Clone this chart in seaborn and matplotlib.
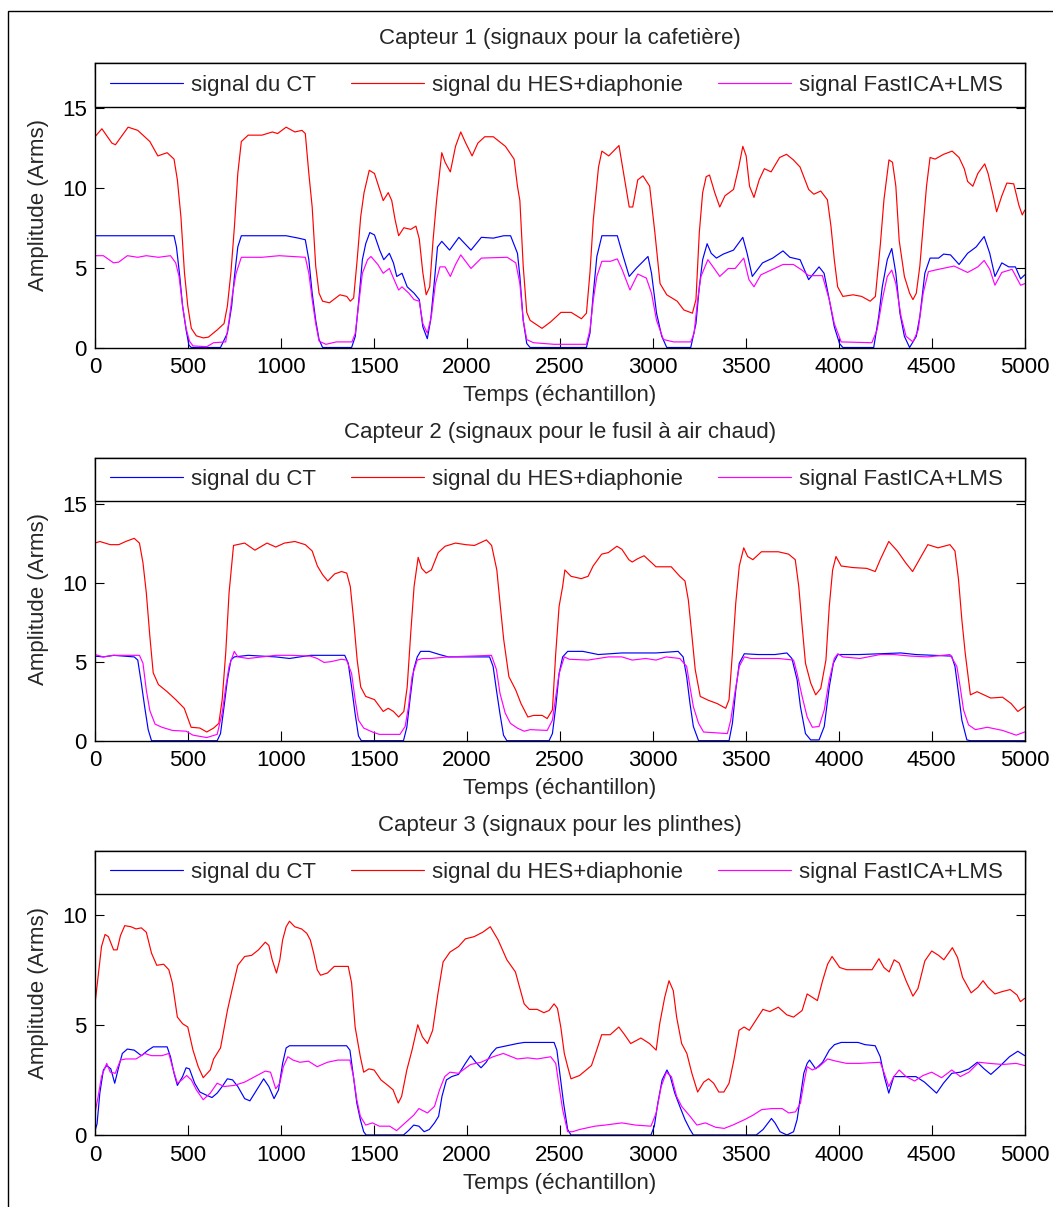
import matplotlib
matplotlib.use("Agg")
import matplotlib.pyplot as plt
import matplotlib.patches as patches
import seaborn as sns

# ---- data (sample index, amplitude in Arms) ----

# Capteur 1 (cafetière)
c1_ct_x = [0, 425, 438, 456, 471, 490, 505, 518, 675, 712, 735, 750, 768, 787, 1028, 1094, 1131,
           1150, 1168, 1187, 1205, 1224, 1380, 1400, 1419, 1438, 1456, 1478, 1503, 1531, 1553,
           1583, 1605, 1623, 1651, 1679, 1716, 1744, 1763, 1787, 1805, 1824, 1842, 1865, 1907,
           1957, 2022, 2078, 2142, 2198, 2235, 2272, 2285, 2303, 2322, 2340, 2643, 2662, 2680,
           2699, 2726, 2809, 2836, 2873, 2910, 2974, 2993, 3020, 3048, 3075, 3204, 3232, 3250,
           3268, 3292, 3314, 3342, 3379, 3434, 3484, 3507, 3535, 3590, 3645, 3700, 3737, 3792,
           3838, 3894, 3921, 3949, 3976, 4004, 4022, 4188, 4215, 4234, 4261, 4285, 4307, 4329,
           4353, 4381, 4417, 4436, 4463, 4491, 4537, 4564, 4601, 4647, 4693, 4739, 4782, 4812,
           4840, 4877, 4914, 4950, 4978, 5000]
c1_ct_y = [7.0, 7.0, 6.3, 4.45, 2.6, 1.1, 0.15, 0.0, 0.0, 0.9, 2.6, 4.45, 6.3, 7.0, 7.0, 6.85, 6.75,
           5.5, 3.4, 1.7, 0.5, 0.0, 0.0, 0.7, 3.0, 5.5, 6.5, 7.2, 7.05, 6.1, 5.5,
           5.9, 5.3, 4.45, 4.65, 3.8, 3.4, 3.0, 1.3, 0.55, 1.7, 4.0, 6.3, 6.65, 6.1,
           6.9, 6.1, 6.9, 6.85, 7.0, 7.0, 5.9, 4.45, 1.7, 0.25, 0.0, 0.0, 0.9, 3.4,
           5.7, 7.0, 7.0, 5.9, 4.45, 4.95, 5.7, 4.65, 2.15, 0.7, 0.0, 0.0, 1.5, 3.8,
           5.5, 6.5, 5.9, 5.6, 5.85, 6.1, 6.9, 5.9, 4.45, 5.3, 5.6, 6.05, 5.65, 5.5,
           4.25, 5.05, 4.65, 3.0, 1.3, 0.25, 0.0, 0.0, 1.95, 3.8, 5.5, 6.2, 4.65, 2.15,
           0.7, 0.0, 0.7, 1.95, 4.65, 5.6, 5.6, 5.85, 5.8, 5.2, 5.9, 6.3, 6.95, 5.9,
           4.45, 5.3, 5.05, 5.05, 4.3, 4.55]

c1_hes_x = [0, 37, 91, 110, 147, 178, 230, 295, 338, 388, 425, 443, 462, 481, 499, 518, 545, 583,
            610, 657, 694, 712, 731, 750, 768, 787, 824, 898, 954, 982, 1028, 1075, 1113, 1131,
            1150, 1168, 1187, 1205, 1224, 1261, 1317, 1354, 1373, 1391, 1410, 1429, 1447, 1475,
            1503, 1531, 1550, 1577, 1596, 1614, 1633, 1661, 1698, 1726, 1744, 1763, 1781, 1800,
            1818, 1837, 1865, 1883, 1911, 1939, 1967, 1994, 2028, 2059, 2096, 2142, 2207, 2254,
            2272, 2285, 2303, 2322, 2340, 2404, 2450, 2506, 2561, 2616, 2643, 2662, 2680, 2708,
            2726, 2763, 2818, 2846, 2873, 2892, 2919, 2947, 2983, 3011, 3039, 3075, 3131, 3167,
            3213, 3232, 3250, 3268, 3287, 3305, 3333, 3360, 3388, 3434, 3462, 3484, 3502, 3520,
            3544, 3572, 3600, 3636, 3682, 3719, 3756, 3792, 3838, 3866, 3903, 3939, 3958, 3976,
            3994, 4022, 4077, 4123, 4169, 4197, 4224, 4243, 4270, 4289, 4307, 4325, 4353, 4381,
            4399, 4417, 4436, 4454, 4472, 4491, 4518, 4564, 4610, 4647, 4675, 4693, 4721, 4748,
            4785, 4803, 4831, 4849, 4877, 4904, 4941, 4969, 4987, 5000]
c1_hes_y = [13.2, 13.7, 12.8, 12.7, 13.3, 13.8, 13.6, 12.9, 12.0, 12.2, 11.8, 10.5, 8.2, 4.7, 2.6,
            1.2, 0.73, 0.6, 0.65, 1.1, 1.5, 2.6, 4.7, 7.6, 10.9, 12.9, 13.3, 13.3, 13.5, 13.4,
            13.8, 13.5, 13.6, 13.4, 10.9, 8.8, 5.1, 3.4, 2.9, 2.8, 3.3, 3.2, 2.9, 3.1, 5.5, 8.2,
            9.7, 11.1, 10.9, 9.9, 9.2, 9.7, 9.2, 8.0, 7.0, 7.5, 7.4, 7.6, 6.8, 4.7, 3.3, 3.8,
            6.7, 9.2, 12.2, 11.6, 11.0, 12.6, 13.5, 12.8, 12.0, 12.8, 13.2, 13.2, 12.6, 11.8,
            10.1, 9.2, 5.1, 2.2, 1.7, 1.2, 1.6, 2.2, 2.2, 1.8, 2.15, 4.7, 8.0, 11.3,
            12.3, 12.0, 12.65, 10.7, 8.8, 8.8, 10.5, 10.75, 10.1, 7.2, 4.0, 3.3, 2.9, 2.35,
            2.15, 3.0, 7.2, 9.7, 10.7, 10.8, 9.7, 8.8, 9.5, 9.9, 11.3, 12.6, 12.0, 10.1,
            9.4, 10.5, 11.2, 11.0, 11.9, 12.1, 11.75, 11.3, 9.9, 9.6, 9.8, 9.25, 7.6, 5.5,
            3.8, 3.2, 3.3, 3.2, 2.9, 3.2, 6.5, 9.25, 11.75, 11.6, 10.1, 6.7, 4.45, 3.4,
            3.0, 3.4, 5.1, 7.6, 10.1, 11.9, 11.8, 12.1, 12.3, 11.9, 11.2, 10.4, 10.1, 10.9,
            11.5, 10.9, 9.5, 8.5, 9.5, 10.3, 10.25, 8.9, 8.3, 8.6]

c1_ica_x = [0, 45, 100, 128, 174, 230, 276, 341, 406, 434, 452, 471, 490, 508, 527, 601, 638, 703,
            721, 740, 759, 787, 898, 991, 1131, 1150, 1168, 1187, 1205, 1242, 1298, 1382, 1400,
            1419, 1438, 1466, 1484, 1521, 1550, 1583, 1605, 1633, 1651, 1688, 1716, 1744, 1763,
            1787, 1809, 1831, 1855, 1883, 1911, 1939, 1967, 2022, 2078, 2217, 2263, 2285, 2303,
            2322, 2358, 2469, 2643, 2662, 2680, 2699, 2726, 2772, 2809, 2836, 2877, 2919, 2965,
            2993, 3020, 3057, 3112, 3204, 3222, 3241, 3259, 3296, 3324, 3360, 3406, 3443, 3489,
            3517, 3544, 3581, 3636, 3700, 3756, 3802, 3838, 3912, 3949, 3976, 4013, 4178, 4206,
            4234, 4261, 4285, 4307, 4335, 4362, 4399, 4427, 4454, 4482, 4518, 4620, 4693, 4748,
            4782, 4812, 4840, 4877, 4932, 4978, 5000]
c1_ica_y = [5.75, 5.75, 5.3, 5.35, 5.75, 5.65, 5.75, 5.65, 5.75, 5.3, 4.45, 2.6, 1.2, 0.4, 0.1,
            0.05, 0.3, 0.35, 1.7, 3.4, 4.65, 5.65, 5.65, 5.75, 5.65, 4.65, 3.0, 1.5, 0.4, 0.2,
            0.35, 0.35, 0.9, 2.8, 4.65, 5.5, 5.7, 5.2, 4.65, 4.95, 4.35, 3.6, 3.8, 3.4, 3.0,
            2.9, 1.5, 0.9, 1.95, 4.0, 5.05, 5.05, 4.45, 5.2, 5.8, 4.95, 5.6, 5.65, 5.3, 4.0,
            1.7, 0.5, 0.3, 0.2, 0.2, 1.1, 3.0, 4.45, 5.4, 5.4, 5.55, 4.85, 3.6, 4.6, 4.35,
            3.4, 1.7, 0.5, 0.35, 0.35, 0.9, 3.0, 4.45, 5.5, 5.05, 4.45, 4.95, 4.95, 5.6,
            4.25, 3.8, 4.55, 4.85, 5.2, 5.2, 4.85, 4.5, 4.5, 3.0, 1.5, 0.35, 0.3, 1.1,
            3.0, 4.45, 4.85, 4.0, 1.95, 0.7, 0.35, 1.1, 3.4, 4.75, 4.85, 5.1, 4.7, 5.05,
            5.45, 4.9, 3.9, 4.7, 4.9, 3.9, 4.0]

# Capteur 2 (fusil à air chaud)
c2_ct_x = [0, 45, 100, 211, 230, 249, 267, 286, 304, 657, 675, 694, 712, 731, 749, 824, 972, 1046,
           1102, 1158, 1343, 1362, 1380, 1399, 1417, 1432, 1659, 1677, 1696, 1714, 1733, 1751,
           1798, 1853, 1900, 2122, 2141, 2159, 2178, 2197, 2215, 2442, 2460, 2478, 2496, 2515,
           2542, 2624, 2707, 2834, 3017, 3136, 3163, 3182, 3200, 3218, 3246, 3410, 3428, 3446,
           3465, 3492, 3565, 3657, 3721, 3748, 3776, 3794, 3821, 3849, 3894, 3922, 3949, 3971,
           3995, 4114, 4223, 4333, 4415, 4607, 4625, 4644, 4662, 4689, 4708, 5000]
c2_ct_y = [5.35, 5.3, 5.4, 5.3, 5.1, 3.65, 2.15, 0.7, 0.0, 0.0, 0.45, 2.15, 3.85, 5.1, 5.3, 5.4,
           5.3, 5.2, 5.3, 5.4, 5.4, 4.9, 3.4, 1.7, 0.3, 0.0, 0.0, 0.85, 2.8, 4.5, 5.3, 5.65,
           5.65, 5.45, 5.3, 5.3, 4.7, 3.2, 1.7, 0.35, 0.0, 0.0, 0.45, 2.15, 4.25, 5.3,
           5.65, 5.65, 5.45, 5.55, 5.55, 5.65, 5.3, 4.05, 2.35, 0.9, 0.0, 0.0, 1.1, 3.2,
           4.9, 5.5, 5.45, 5.45, 5.55, 5.2, 3.85, 2.15, 0.45, 0.05, 0.05, 0.9, 3.4, 4.9,
           5.45, 5.45, 5.5, 5.55, 5.45, 5.35, 4.7, 3.0, 1.3, 0.05, 0.0, 0.0]

c2_hes_x = [0, 26, 82, 128, 165, 211, 239, 258, 276, 295, 313, 341, 388, 434, 480, 517, 564, 601,
            638, 666, 684, 703, 721, 745, 805, 860, 925, 972, 1019, 1075, 1131, 1168, 1196, 1224,
            1252, 1289, 1326, 1354, 1373, 1391, 1410, 1429, 1456, 1503, 1550, 1577, 1605, 1633,
            1661, 1679, 1698, 1716, 1738, 1757, 1781, 1809, 1846, 1883, 1939, 1994, 2041, 2078,
            2105, 2133, 2161, 2180, 2198, 2226, 2263, 2291, 2328, 2359, 2405, 2432, 2460, 2478,
            2496, 2515, 2527, 2560, 2615, 2652, 2679, 2725, 2761, 2807, 2834, 2871, 2889, 2917,
            2953, 3017, 3099, 3145, 3173, 3191, 3209, 3228, 3255, 3300, 3346, 3392, 3410, 3428,
            3446, 3465, 3489, 3510, 3538, 3584, 3675, 3730, 3766, 3785, 3803, 3821, 3849, 3876,
            3903, 3931, 3949, 3967, 3985, 4013, 4077, 4150, 4196, 4223, 4269, 4315, 4360, 4397,
            4433, 4479, 4534, 4598, 4625, 4644, 4662, 4680, 4708, 4744, 4781, 4817, 4881, 4927,
            4963, 5000]
c2_hes_y = [12.5, 12.6, 12.4, 12.4, 12.6, 12.8, 12.5, 11.25, 9.35, 6.6, 4.3, 3.55, 3.1, 2.6, 2.05,
            0.85, 0.8, 0.55, 0.8, 1.1, 2.6, 5.55, 9.35, 12.35, 12.5, 12.05, 12.5, 12.25, 12.5,
            12.6, 12.4, 12.0, 11.05, 10.5, 10.1, 10.55, 10.7, 10.6, 9.75, 7.65, 5.1, 3.4, 2.8,
            2.6, 1.85, 2.05, 1.85, 1.5, 1.85, 3.4, 6.8, 9.75, 11.6, 10.9, 10.6, 10.8, 11.9,
            12.3, 12.5, 12.4, 12.35, 12.55, 12.7, 12.35, 10.8, 8.5, 6.4, 4.05, 3.2, 2.35, 1.5,
            1.6, 1.6, 1.4, 1.95, 5.55, 8.5, 9.75, 10.8, 10.4, 10.25, 10.4, 11.05, 11.8, 11.9,
            12.3, 12.1, 11.45, 11.3, 11.5, 11.7, 11.0, 11.0, 10.4, 10.1, 8.9, 6.8, 4.5, 2.8,
            2.55, 2.35, 2.05, 2.6, 5.55, 8.7, 11.05, 12.2, 11.65, 11.45, 11.95, 11.95, 11.8,
            11.45, 9.75, 7.25, 4.9, 3.65, 2.9, 3.3, 5.1, 8.5, 10.8, 11.65, 11.05, 10.95, 10.9,
            10.7, 11.45, 12.6, 12.0, 11.25, 10.7, 11.45, 12.4, 12.2, 12.4, 12.0, 10.2, 7.65,
            5.55, 2.9, 3.1, 2.9, 2.7, 2.75, 2.35, 1.85, 2.15]

c2_ica_x = [0, 45, 100, 239, 258, 276, 295, 323, 360, 416, 490, 527, 601, 657, 684, 703, 721, 749,
            768, 824, 898, 972, 1056, 1158, 1195, 1232, 1269, 1325, 1353, 1380, 1399, 1417, 1445,
            1492, 1529, 1640, 1668, 1686, 1705, 1733, 1761, 1807, 1900, 2132, 2159, 2178, 2206,
            2234, 2271, 2308, 2341, 2432, 2460, 2478, 2496, 2524, 2551, 2652, 2761, 2834, 2889,
            2962, 3017, 3072, 3145, 3182, 3200, 3218, 3246, 3273, 3401, 3419, 3441, 3465, 3492,
            3529, 3602, 3675, 3757, 3776, 3803, 3830, 3858, 3894, 3922, 3949, 3976, 3995, 4022,
            4114, 4223, 4296, 4388, 4479, 4598, 4635, 4653, 4671, 4698, 4735, 4799, 4881, 4954,
            5000]
c2_ica_y = [5.45, 5.3, 5.4, 5.4, 4.9, 3.2, 1.9, 1.05, 0.85, 0.65, 0.6, 0.35, 0.2, 0.4, 1.75, 3.4,
            4.7, 5.65, 5.3, 5.2, 5.3, 5.4, 5.4, 5.35, 5.2, 4.95, 5.0, 5.15, 5.1, 4.25, 2.6, 1.3,
            0.8, 0.55, 0.4, 0.4, 0.9, 2.15, 4.05, 5.1, 5.2, 5.2, 5.3, 5.4, 4.5, 3.0, 1.75,
            1.1, 0.8, 0.6, 0.7, 0.65, 1.3, 2.8, 4.25, 5.3, 5.15, 5.1, 5.3, 5.3, 5.1,
            5.2, 5.1, 5.3, 5.2, 4.7, 3.4, 2.15, 1.1, 0.55, 0.45, 1.3, 3.0, 4.7, 5.3,
            5.2, 5.2, 5.2, 5.1, 4.25, 2.8, 1.5, 0.85, 0.9, 1.95, 3.85, 5.2, 5.5, 5.3,
            5.2, 5.45, 5.45, 5.35, 5.3, 5.45, 4.7, 3.4, 1.95, 1.0, 0.7, 0.85, 0.65, 0.35,
            0.55]

# Capteur 3 (plinthes)
c3_ct_x = [0, 11, 26, 45, 63, 85, 106, 128, 147, 174, 211, 249, 286, 313, 388, 406, 425, 443, 471,
           490, 508, 536, 564, 601, 629, 657, 684, 712, 740, 768, 805, 833, 870, 907, 935, 963,
           987, 1009, 1028, 1046, 1353, 1371, 1390, 1408, 1427, 1445, 1458, 1659, 1686, 1714,
           1742, 1770, 1798, 1826, 1848, 1866, 1890, 1918, 1955, 1992, 2020, 2048, 2076, 2104,
           2132, 2159, 2215, 2271, 2308, 2469, 2484, 2502, 2520, 2542, 2560, 2990, 3008, 3027,
           3050, 3076, 3094, 3118, 3145, 3173, 3200, 3218, 3556, 3593, 3620, 3638, 3657, 3684,
           3721, 3757, 3776, 3794, 3812, 3830, 3843, 3876, 3913, 3949, 3977, 4013, 4104, 4141,
           4196, 4223, 4245, 4269, 4296, 4333, 4415, 4461, 4500, 4526, 4563, 4608, 4654, 4700,
           4745, 4782, 4818, 4864, 4918, 4963, 5000]
c3_ct_y = [0.2, 0.5, 1.9, 2.95, 3.15, 3.0, 2.35, 3.1, 3.7, 3.9, 3.85, 3.6, 3.85, 4.0, 4.0, 3.55,
           2.8, 2.25, 2.65, 3.05, 3.0, 2.35, 1.95, 1.8, 1.7, 1.9, 2.2, 2.55, 2.5, 2.2, 1.65,
           1.55, 2.05, 2.55, 2.2, 1.65, 2.05, 3.25, 3.95, 4.05, 4.05, 3.85, 2.65, 1.45, 0.7,
           0.15, 0.0, 0.0, 0.2, 0.45, 0.4, 0.15, 0.25, 0.55, 0.85, 1.75, 2.5, 2.65, 2.75,
           3.25, 3.6, 3.3, 3.05, 3.3, 3.7, 3.95, 4.05, 4.15, 4.2, 4.2, 3.85, 2.65, 1.45,
           0.25, 0.0, 0.0, 0.4, 1.45, 2.5, 2.95, 2.65, 1.9, 1.3, 0.7, 0.25, 0.0, 0.0, 0.25,
           0.55, 0.75, 0.55, 0.15, 0.0, 0.15, 0.7, 1.75, 2.8, 3.25, 3.4, 3.0, 3.3, 3.85,
           4.1, 4.2, 4.2, 4.1, 4.05, 3.55, 2.65, 1.9, 2.65, 2.65, 2.65, 2.4, 2.1, 1.9,
           2.35, 2.8, 2.85, 3.0, 3.3, 3.0, 2.75, 3.1, 3.55, 3.8, 3.6]

c3_hes_x = [0, 17, 35, 54, 72, 100, 119, 137, 160, 193, 221, 249, 276, 304, 332, 369, 397, 416, 443,
            471, 499, 527, 555, 582, 620, 638, 675, 712, 740, 768, 805, 842, 879, 916, 935, 953,
            976, 994, 1009, 1028, 1046, 1074, 1111, 1139, 1158, 1176, 1195, 1213, 1250, 1287,
            1325, 1362, 1380, 1399, 1427, 1445, 1473, 1501, 1538, 1575, 1603, 1631, 1649, 1677,
            1705, 1736, 1761, 1788, 1816, 1844, 1872, 1909, 1955, 1992, 2039, 2085, 2126, 2168,
            2215, 2261, 2308, 2336, 2378, 2414, 2442, 2469, 2487, 2505, 2524, 2542, 2560, 2606,
            2670, 2698, 2725, 2771, 2817, 2844, 2881, 2936, 2982, 3018, 3037, 3064, 3087, 3110,
            3128, 3155, 3183, 3210, 3241, 3274, 3300, 3327, 3355, 3382, 3410, 3436, 3464, 3491,
            3519, 3565, 3592, 3629, 3675, 3721, 3757, 3803, 3830, 3858, 3885, 3913, 3940, 3964,
            4005, 4042, 4115, 4179, 4216, 4243, 4271, 4298, 4325, 4362, 4399, 4426, 4463, 4500,
            4537, 4565, 4611, 4639, 4666, 4712, 4748, 4776, 4803, 4840, 4876, 4922, 4959, 4977,
            5000]
c3_hes_y = [5.95, 7.2, 8.55, 9.1, 9.0, 8.4, 8.4, 9.05, 9.5, 9.45, 9.35, 9.4, 9.2, 8.25, 7.7, 7.75,
            7.5, 6.9, 5.35, 5.05, 4.9, 3.85, 3.1, 2.6, 2.95, 3.45, 3.95, 5.65, 6.7, 7.7, 8.1,
            8.15, 8.4, 8.75, 8.6, 7.95, 7.35, 7.95, 8.85, 9.45, 9.7, 9.45, 9.35, 9.15, 8.85,
            8.25, 7.5, 7.25, 7.35, 7.65, 7.65, 7.65, 6.9, 4.9, 3.55, 2.85, 3.0, 2.95, 2.5,
            2.25, 2.05, 1.45, 1.75, 2.95, 3.85, 5.0, 4.45, 4.15, 4.75, 6.4, 7.85, 8.3, 8.55,
            8.9, 9.0, 9.2, 9.45, 8.85, 7.95, 7.4, 5.95, 5.7, 5.7, 5.55, 5.65, 5.95, 5.75,
            4.9, 3.7, 3.1, 2.55, 2.7, 3.15, 3.85, 4.55, 4.55, 4.9, 4.6, 4.15, 4.4, 4.15,
            3.85, 5.05, 6.25, 7.0, 6.55, 5.35, 4.15, 3.7, 2.8, 1.95, 2.4, 2.55, 2.35, 1.95,
            1.95, 2.35, 3.4, 4.75, 4.9, 4.75, 5.35, 5.7, 5.6, 5.8, 5.45, 5.35, 5.65, 6.4,
            6.25, 6.1, 7.0, 7.75, 8.1, 7.6, 7.5, 7.5, 7.5, 8.0, 7.6, 7.4, 7.95, 7.8, 7.0,
            6.3, 6.65, 7.9, 8.35, 8.15, 7.95, 8.5, 8.05, 7.15, 6.45, 6.7, 7.0, 6.7, 6.4,
            6.5, 6.6, 6.35, 6.05, 6.2]

c3_ica_x = [0, 17, 35, 63, 82, 109, 137, 165, 221, 267, 304, 360, 397, 416, 443, 467, 493, 518, 545,
            582, 620, 657, 694, 749, 805, 860, 916, 944, 972, 994, 1013, 1037, 1065, 1102, 1148,
            1195, 1250, 1306, 1371, 1390, 1408, 1427, 1456, 1492, 1529, 1585, 1622, 1668, 1714,
            1742, 1788, 1826, 1853, 1881, 1909, 1955, 2020, 2076, 2141, 2196, 2271, 2327, 2378,
            2451, 2478, 2496, 2515, 2542, 2569, 2606, 2688, 2743, 2834, 2907, 2990, 3018, 3045,
            3073, 3100, 3128, 3155, 3200, 3237, 3283, 3338, 3384, 3430, 3494, 3539, 3585, 3640,
            3695, 3731, 3767, 3794, 3812, 3830, 3858, 3894, 3940, 3986, 4042, 4114, 4223, 4245,
            4269, 4296, 4325, 4362, 4408, 4453, 4500, 4553, 4608, 4654, 4700, 4754, 4809, 4881,
            4954, 5000]
c3_ica_y = [1.0, 1.75, 2.65, 3.25, 2.85, 2.8, 3.4, 3.45, 3.45, 3.7, 3.6, 3.6, 3.7, 3.1, 2.35, 2.5,
            2.7, 2.5, 2.05, 1.6, 1.9, 2.35, 2.2, 2.25, 2.4, 2.65, 2.9, 2.85, 2.1, 2.35, 3.1,
            3.55, 3.4, 3.3, 3.35, 3.1, 3.3, 3.4, 3.4, 2.65, 1.6, 0.85, 0.45, 0.55, 0.4, 0.4,
            0.2, 0.55, 0.9, 1.2, 1.0, 1.3, 2.05, 2.65, 2.85, 2.8, 3.2, 3.3, 3.55, 3.7, 3.45,
            3.5, 3.45, 3.55, 3.25, 2.2, 1.15, 0.15, 0.15, 0.25, 0.4, 0.45, 0.55, 0.45, 0.4,
            1.0, 2.2, 2.85, 2.65, 1.75, 1.3, 0.85, 0.45, 0.55, 0.35, 0.3, 0.45, 0.7, 0.9,
            1.15, 1.2, 1.2, 1.0, 1.05, 1.45, 2.35, 3.1, 2.95, 3.1, 3.45, 3.35, 3.25, 3.25,
            3.3, 2.8, 2.2, 2.65, 2.95, 2.65, 2.45, 2.7, 2.85, 2.6, 2.95, 2.65, 2.85, 3.3,
            3.25, 3.2, 3.25, 3.15]

titles = [
    "Capteur 1 (signaux pour la cafetière)",
    "Capteur 2 (signaux pour le fusil à air chaud)",
    "Capteur 3 (signaux pour les plinthes)",
]
series_labels = ["signal du CT", "signal du HES+diaphonie", "signal FastICA+LMS"]
series_colors = ["#0000ff", "#ff0000", "#ff00ff"]
x_ticks = list(range(0, 5001, 500))
y_ticks = [[0, 5, 10, 15], [0, 5, 10, 15], [0, 5, 10]]
y_tops = [17.8, 17.9, 12.9]

panels = [
    [(c1_ct_x, c1_ct_y), (c1_hes_x, c1_hes_y), (c1_ica_x, c1_ica_y)],
    [(c2_ct_x, c2_ct_y), (c2_hes_x, c2_hes_y), (c2_ica_x, c2_ica_y)],
    [(c3_ct_x, c3_ct_y), (c3_hes_x, c3_hes_y), (c3_ica_x, c3_ica_y)],
]

sns.set_style("ticks")
plt.rcParams["font.family"] = ["Liberation Sans", "DejaVu Sans"]
plt.rcParams["axes.linewidth"] = 1.0

W, H = 1053, 1207
fig = plt.figure(figsize=(W / 100, H / 100), dpi=100)
fig.patch.set_facecolor("white")

# outer frame (left/top edges visible, the rest runs off the image)
fig.patches.append(patches.Rectangle(
    (8 / W, -0.02), 1.1, 1 - 11 / H + 0.02,
    transform=fig.transFigure, fill=False, edgecolor="black", linewidth=1.0,
))

# axes boxes in pixels: (left, top, right, bottom)
boxes = [(95, 63.3, 1024.7, 347.5), (95, 457.7, 1024.7, 740.7), (95, 850.7, 1024.7, 1135)]
FS = 16
LEG_PX = 43.4

for i, (box, series) in enumerate(zip(boxes, panels)):
    l, t, r, b = box
    ax = fig.add_axes([l / W, 1 - b / H, (r - l) / W, (b - t) / H])
    for (xs, ys), lab, col in zip(series, series_labels, series_colors):
        sns.lineplot(x=xs, y=ys, ax=ax, color=col, linewidth=0.85, label=lab,
                     estimator=None, sort=False)

    ax.set_xlim(0, 5000)
    ax.set_ylim(0, y_tops[i])
    ax.set_xticks(x_ticks)
    ax.set_yticks(y_ticks[i])
    ax.tick_params(axis="both", which="both", direction="in", colors="black",
                   labelsize=FS, top=True, right=True)
    ax.tick_params(axis="x", length=7.5, width=0.8, pad=7)
    ax.tick_params(axis="y", length=6.5, width=0.8, pad=6)
    for sp in ax.spines.values():
        sp.set_color("black")
        sp.set_linewidth(1.0)

    ax.set_title(titles[i], fontsize=FS, pad=14)
    ax.set_xlabel("Temps (échantillon)", fontsize=FS, labelpad=5)
    ax.set_ylabel("Amplitude (Arms)", fontsize=FS, labelpad=9)

    # legend strip across the top of the axes, framed like the reference
    ax_w = r - l
    leg_h = LEG_PX / (b - t)
    ax.add_patch(patches.Rectangle((0, 1 - leg_h), 1, leg_h, transform=ax.transAxes,
                                   facecolor="white", edgecolor="black", linewidth=1.0,
                                   zorder=4, clip_on=False))
    inset_l = 5 / ax_w
    inset_r = 12 / ax_w
    leg = ax.legend(loc="center", bbox_to_anchor=(inset_l, 1 - leg_h, 1 - inset_l - inset_r, leg_h),
                    mode="expand", ncol=3, borderaxespad=0, frameon=False,
                    fontsize=FS, handlelength=3.3, handletextpad=0.35, borderpad=0.45)
    leg.set_zorder(5)
    for line in leg.get_lines():
        line.set_linewidth(0.85)

fig.savefig("out.png", dpi=100, facecolor="white")
